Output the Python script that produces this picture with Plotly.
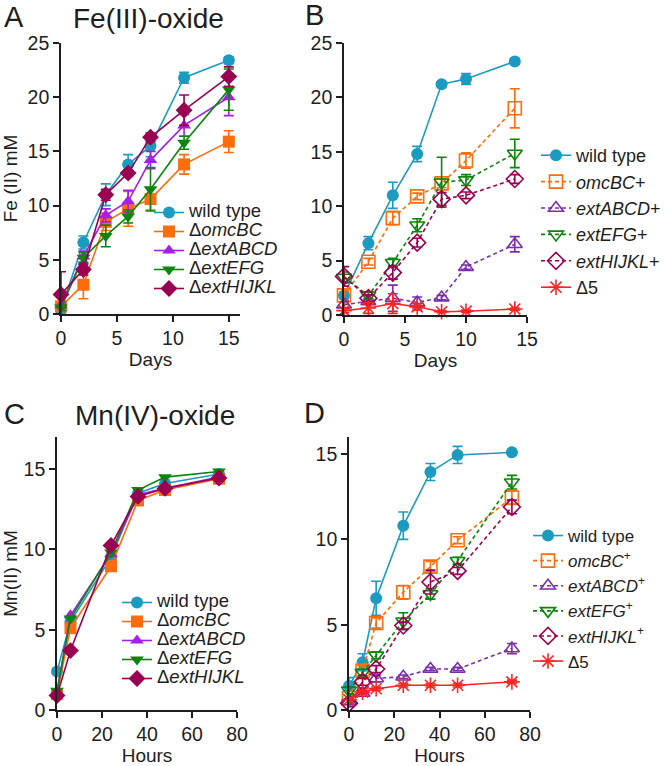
import plotly.graph_objects as go

# ---------------- data ----------------
days_A = [0, 2, 4, 6, 8, 11, 15]
A_wt = [0.4, 6.6, 11.0, 13.8, 15.5, 21.8, 23.4]
A_wt_err = [0.3, 0.6, 1.0, 0.9, 1.0, 0.5, 0.3]
A_omc = [0.7, 2.7, 8.5, 9.7, 10.6, 13.8, 15.9]
A_omc_err = [0.4, 1.3, 0.8, 1.6, 1.0, 0.9, 1.0]
A_abcd = [0.8, 5.3, 9.1, 10.4, 14.2, 17.4, 20.0]
A_abcd_err = [0.3, 0.5, 0.6, 1.0, 0.8, 1.0, 1.7]
A_efg = [0.6, 5.2, 7.2, 9.0, 11.5, 15.8, 20.7]
A_efg_err = [0.3, 0.5, 1.0, 0.6, 2.0, 0.6, 1.9]
A_hij = [1.8, 4.1, 11.0, 13.0, 16.3, 18.8, 21.9]
A_hij_err = [2.1, 0.5, 0.5, 0.3, 0.4, 1.4, 0.9]

days_B = [0, 2, 4, 6, 8, 10, 14]
B_wt = [1.8, 6.6, 11.0, 14.8, 21.2, 21.7, 23.3]
B_wt_err = [0.3, 0.6, 1.2, 0.7, 0.2, 0.5, 0.2]
B_omc = [1.8, 4.9, 8.9, 10.9, 12.1, 14.2, 19.0]
B_omc_err = [0.5, 0.3, 0.6, 0.3, 0.4, 0.7, 1.8]
B_abcd = [0.95, 1.25, 1.55, 1.15, 1.6, 4.4, 6.5]
B_abcd_err = [0.3, 0.2, 1.2, 0.5, 0.2, 0.2, 0.7]
B_efg = [3.45, 1.8, 4.8, 8.25, 12.2, 12.4, 14.85]
B_efg_err = [0.5, 0.3, 0.4, 0.6, 2.3, 0.5, 1.3]
B_hij = [3.55, 1.55, 3.9, 6.65, 10.65, 11.0, 12.5]
B_hij_err = [0.9, 0.3, 0.6, 0.4, 0.6, 0.3, 0.4]
B_d5 = [0.4, 0.65, 1.05, 0.75, 0.3, 0.35, 0.55]
B_d5_err = [0.2, 0.5, 0.9, 0.3, 0.1, 0.1, 0.1]

hours_C = [0, 6, 24, 36, 48, 72]
C_wt = [2.4, 5.5, 9.5, 13.5, 14.1, 14.7]
C_omc = [1.0, 5.1, 8.95, 13.05, 13.7, 14.4]
C_abcd = [1.1, 5.9, 9.7, 13.4, 13.8, 14.5]
C_efg = [1.2, 5.7, 9.8, 13.7, 14.5, 14.85]
C_hij = [0.9, 3.7, 10.25, 13.3, 13.8, 14.45]

hours_D = [0, 6, 12, 24, 36, 48, 72]
D_wt = [1.4, 2.8, 6.55, 10.8, 13.95, 14.95, 15.1]
D_wt_err = [0.5, 0.5, 1.0, 0.8, 0.5, 0.5, 0.1]
D_omc = [0.7, 2.3, 5.1, 6.9, 8.4, 9.95, 12.45]
D_omc_err = [0.2, 0.3, 0.3, 0.4, 0.3, 0.2, 0.4]
D_abcd = [0.5, 1.0, 1.85, 1.95, 2.4, 2.4, 3.6]
D_abcd_err = [0.1, 0.1, 0.2, 0.1, 0.1, 0.1, 0.3]
D_efg = [1.15, 2.2, 3.2, 5.2, 6.8, 8.75, 13.35]
D_efg_err = [0.2, 0.2, 0.2, 0.5, 0.3, 0.2, 0.4]
D_hij = [0.4, 1.65, 2.4, 4.95, 7.5, 8.15, 11.9]
D_hij_err = [0.2, 0.2, 0.2, 0.2, 0.7, 0.2, 0.4]
D_d5 = [0.6, 1.05, 1.25, 1.45, 1.45, 1.45, 1.65]
D_d5_err = [0.1, 0.1, 0.1, 0.1, 0.1, 0.1, 0.1]

del_names = ["wild type", "Δ<i>omcBC</i>", "Δ<i>extABCD</i>", "Δ<i>extEFG</i>", "Δ<i>extHIJKL</i>"]
compB_names = ["wild type", "<i>omcBC</i>+", "<i>extABCD</i>+", "<i>extEFG</i>+", "<i>extHIJKL</i>+", "Δ5"]
compD_names = ["wild type", "<i>omcBC</i><sup>+</sup>", "<i>extABCD</i><sup>+</sup>",
               "<i>extEFG</i><sup>+</sup>", "<i>extHIJKL</i><sup>+</sup>", "Δ5"]

# ---------------- styles ----------------
C_TEAL = "#1b9bc0"
C_ORANGE = "#ff6c0a"
C_VIOLET = "#a61fe8"
C_PURPLE = "#7b2fab"
C_GREEN = "#0b850b"
C_MAROON = "#9a0052"
C_RED = "#ff2424"
FONT = "Liberation Sans, Arial, sans-serif"
INK = "#1e1e1e"

W, H = 666, 766
fig = go.Figure()


def px_x(p):
    return p / W


def px_y(p):
    return 1 - p / H


def add(x, y, err, name, color, symbol, dash, xa, ya, leg, size=12, open_=False, lw=1.6):
    marker = dict(symbol=symbol, size=size, color=color)
    if open_:
        marker["line"] = dict(color=color, width=1.6)
    else:
        marker["line"] = dict(width=0)
    tr = dict(x=x, y=y, name=name, mode="lines+markers", xaxis=xa, yaxis=ya, legend=leg,
              line=dict(color=color, width=lw, dash=dash), marker=marker, cliponaxis=False)
    if err is not None:
        tr["error_y"] = dict(type="data", array=err, visible=True, color=color, thickness=1.6, width=5)
    fig.add_trace(go.Scatter(**tr))


def span(t):
    return "<span style='font-size:18.5px'>" + t + "</span>"


# Panel A
colsA = [C_TEAL, C_ORANGE, C_VIOLET, C_GREEN, C_MAROON]
symsA = ["circle", "square", "triangle-up", "triangle-down", "diamond"]
seriesA = [(A_wt, A_wt_err), (A_omc, A_omc_err), (A_abcd, A_abcd_err), (A_efg, A_efg_err), (A_hij, A_hij_err)]
for (ys, es), nm, c, s in zip(seriesA, del_names, colsA, symsA):
    add(days_A, ys, es, span(nm), c, s, "solid", "x", "y", "legend", size=12 if s != "diamond" else 13)

# Panel B
colsB = [C_TEAL, C_ORANGE, C_PURPLE, C_GREEN, C_MAROON, C_RED]
symsB = ["circle", "square-open", "triangle-up-open", "triangle-down-open", "diamond-open", "asterisk-open"]
dashB = ["solid", "4px,3px", "4px,3px", "4px,3px", "4px,3px", "solid"]
seriesB = [(B_wt, B_wt_err), (B_omc, B_omc_err), (B_abcd, B_abcd_err), (B_efg, B_efg_err),
           (B_hij, B_hij_err), (B_d5, B_d5_err)]
for (ys, es), nm, c, s, d in zip(seriesB, compB_names, colsB, symsB, dashB):
    add(days_B, ys, es, nm, c, s, d, "x2", "y2", "legend2", size=13 if s != "circle" else 12,
        open_=(s != "circle"))

# Panel C
seriesC = [C_wt, C_omc, C_abcd, C_efg, C_hij]
for ys, nm, c, s in zip(seriesC, del_names, colsA, symsA):
    add(hours_C, ys, None, span(nm), c, s, "solid", "x3", "y3", "legend3", size=12 if s != "diamond" else 13)

# Panel D
seriesD = [(D_wt, D_wt_err), (D_omc, D_omc_err), (D_abcd, D_abcd_err), (D_efg, D_efg_err),
           (D_hij, D_hij_err), (D_d5, D_d5_err)]
for (ys, es), nm, c, s, d in zip(seriesD, compD_names, colsB, symsB, dashB):
    add(hours_D, ys, es, nm, c, s, d, "x4", "y4", "legend4", size=13 if s != "circle" else 12,
        open_=(s != "circle"))

axis_common = dict(showgrid=False, zeroline=False, showline=True, linecolor=INK, linewidth=1.6,
                   ticks="outside", ticklen=6, tickwidth=1.6, tickcolor=INK,
                   tickfont=dict(family=FONT, size=19.5, color=INK), automargin=False)
title_font = dict(family=FONT, size=19, color=INK)

layout = dict(
    width=W, height=H, margin=dict(l=0, r=0, t=0, b=0),
    paper_bgcolor="white", plot_bgcolor="white",
    font=dict(family=FONT, color=INK),
    xaxis=dict(axis_common, domain=[px_x(61), px_x(240)], range=[0, 16], tickvals=[0, 5, 10, 15],
               anchor="y", title=dict(text="Days", font=title_font, standoff=2)),
    yaxis=dict(axis_common, domain=[px_y(314), px_y(43)], range=[0, 25], tickvals=[0, 5, 10, 15, 20, 25],
               anchor="x", title=dict(text="Fe (II) mM", font=title_font, standoff=6)),
    xaxis2=dict(axis_common, domain=[px_x(344), px_x(527)], range=[0, 15], tickvals=[0, 5, 10, 15],
                anchor="y2", title=dict(text="Days", font=title_font, standoff=2)),
    yaxis2=dict(axis_common, domain=[px_y(315), px_y(43)], range=[0, 25], tickvals=[0, 5, 10, 15, 20, 25],
                anchor="x2"),
    xaxis3=dict(axis_common, domain=[px_x(57), px_x(237)], range=[0, 80], tickvals=[0, 20, 40, 60, 80],
                anchor="y3", title=dict(text="Hours", font=title_font, standoff=2)),
    yaxis3=dict(axis_common, domain=[px_y(710), px_y(437)], range=[0, 17], tickvals=[0, 5, 10, 15],
                anchor="x3", title=dict(text="Mn(II) mM", font=title_font, standoff=4)),
    xaxis4=dict(axis_common, domain=[px_x(349), px_x(530)], range=[0, 80], tickvals=[0, 20, 40, 60, 80],
                anchor="y4", title=dict(text="Hours", font=title_font, standoff=2)),
    yaxis4=dict(axis_common, domain=[px_y(710), px_y(437)], range=[0, 16], tickvals=[0, 5, 10, 15],
                anchor="x4"),
    legend=dict(x=px_x(149), y=px_y(198), xanchor="left", yanchor="top", bgcolor="rgba(0,0,0,0)",
                font=dict(family=FONT, size=12.3, color=INK), borderwidth=0),
    legend2=dict(x=px_x(536), y=px_y(137), xanchor="left", yanchor="top", bgcolor="rgba(0,0,0,0)",
                 font=dict(family=FONT, size=18, color=INK), borderwidth=0),
    legend3=dict(x=px_x(117), y=px_y(588), xanchor="left", yanchor="top", bgcolor="rgba(0,0,0,0)",
                 font=dict(family=FONT, size=12.3, color=INK), borderwidth=0),
    legend4=dict(x=px_x(528), y=px_y(518), xanchor="left", yanchor="top", bgcolor="rgba(0,0,0,0)",
                 font=dict(family=FONT, size=17, color=INK), borderwidth=0),
    showlegend=True,
)
fig.update_layout(**layout)

labels = [
    ("A", 14, 17, 29), ("Fe(III)-oxide", 148, 18, 28), ("B", 314, 15, 29),
    ("C", 14, 414, 29), ("Mn(IV)-oxide", 155, 415, 28), ("D", 314, 413, 29),
]
for txt, xp, yp, fs in labels:
    fig.add_annotation(text=txt, x=px_x(xp), y=px_y(yp), xref="paper", yref="paper",
                       xanchor="center", yanchor="middle", showarrow=False,
                       font=dict(family=FONT, size=fs, color=INK))

fig.write_html("out.html", config={"displayModeBar": False},
               post_script="document.body.style.margin='0px';document.body.style.padding='0px';")
